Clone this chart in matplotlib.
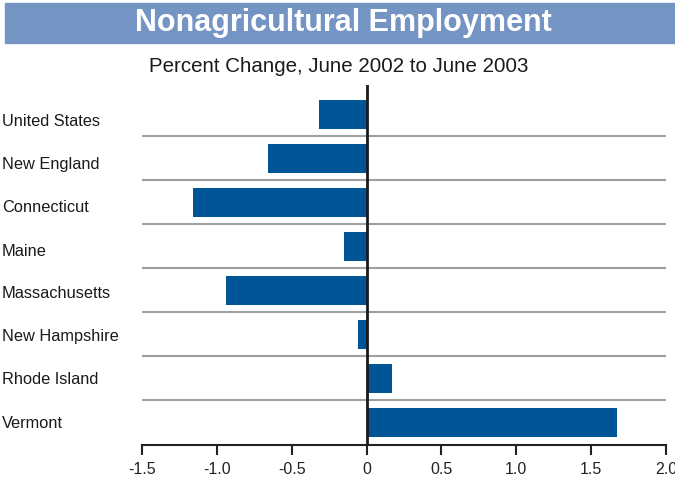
import matplotlib.pyplot as plt
from matplotlib.patches import Rectangle

# data
regions = ['United States', 'New England', 'Connecticut', 'Maine',
           'Massachusetts', 'New Hampshire', 'Rhode Island', 'Vermont']
pct_change = [-0.32, -0.66, -1.16, -0.15, -0.94, -0.06, 0.17, 1.67]
xticks = [-1.5, -1.0, -0.5, 0, 0.5, 1.0, 1.5, 2.0]
xtick_labels = ['-1.5', '-1.0', '-0.5', '0', '0.5', '1.0', '1.5', '2.0']

plt.rcParams['font.family'] = ['Liberation Sans', 'DejaVu Sans']

W, H = 675, 482
fig = plt.figure(figsize=(W / 100, H / 100), dpi=100)

# title banner
fig.patches.append(Rectangle((5 / W, 1 - 43 / H), 670 / W, 40 / H,
                             transform=fig.transFigure, color='#7494c4', zorder=0))
fig.text(343 / W, 1 - 23 / H, 'Nonagricultural Employment', color='white',
         fontsize=22, fontweight='bold', ha='center', va='center')
fig.text(339 / W, 1 - 67 / H, 'Percent Change, June 2002 to June 2003',
         fontsize=14.8, ha='center', va='center', color='#1a1a1a')

ax = fig.add_axes([142 / W, 1 - 445 / H, 524 / W, 360 / H])
y = list(range(len(regions)))
ax.barh(y, pct_change, height=0.66, color='#005596', zorder=2)

ax.set_xlim(-1.5, 2.0)
ax.set_ylim(7.52, -0.66)

# grey separators between rows, dark zero line
for i in range(len(regions) - 1):
    ax.axhline(i + 0.5, color='#a0a0a0', lw=1.5, zorder=1)
ax.axvline(0, color='#1a1a1a', lw=2, zorder=3)

for s in ['top', 'right', 'left']:
    ax.spines[s].set_visible(False)
ax.spines['bottom'].set_linewidth(1.5)
ax.spines['bottom'].set_color('#222222')

ax.set_xticks(xticks)
ax.set_xticklabels(xtick_labels)
ax.tick_params(axis='x', direction='out', length=7, width=1.5, colors='#222222',
               labelsize=11.5, pad=5)
ax.set_yticks([])

for i, name in enumerate(regions):
    fig.text(2 / W, 1 - (122 + 43 * i) / H, name, fontsize=11.8,
             ha='left', va='center', color='#1a1a1a')

fig.savefig('out.png', dpi=100)
